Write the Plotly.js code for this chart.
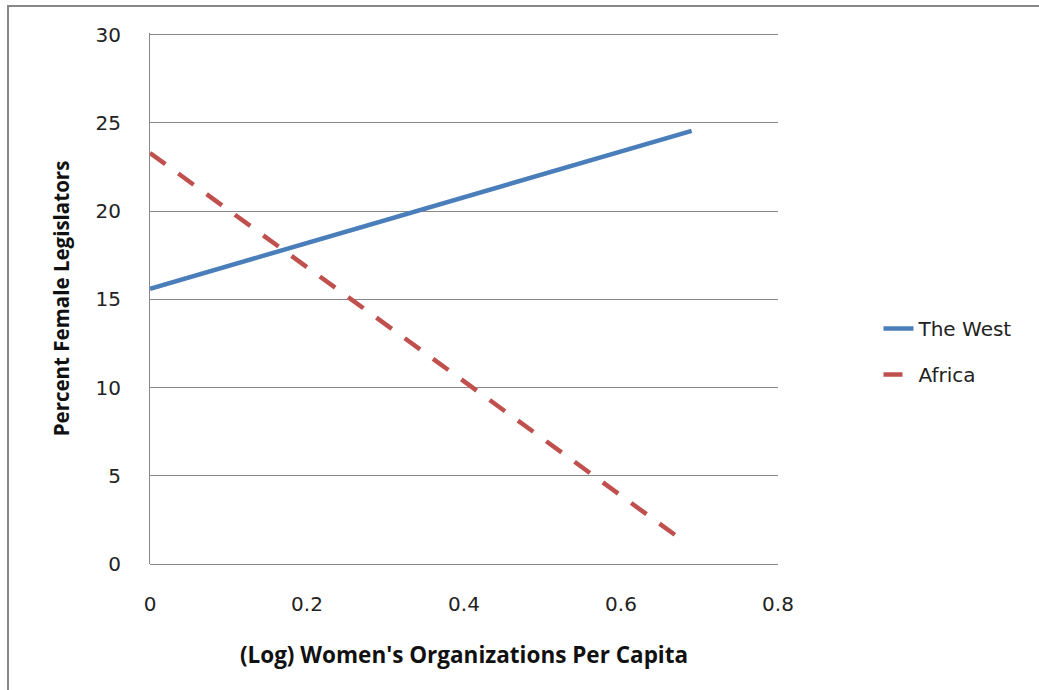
<!DOCTYPE html>
<html><head><meta charset="utf-8">
<script src="https://cdn.plot.ly/plotly-3.0.1.min.js"></script>
<style>
html,body{margin:0;padding:0;background:#fff;}
#frame{position:absolute;left:7px;top:5px;width:1040px;height:700px;border-left:2px solid #888;border-top:2px solid #888;}
#chart{position:absolute;left:0;top:0;width:1039px;height:690px;}
</style></head>
<body>
<div id="frame"></div>
<div id="chart"></div>
<script>
const westX = [0, 0.69];
const westY = [15.6, 24.55];
const africaX = [0, 0.675];
const africaY = [23.3, 1.45];
const seriesNames = ["The West", "Africa"];
const xTicks = [0, 0.2, 0.4, 0.6, 0.8];
const yTicks = [0, 5, 10, 15, 20, 25, 30];

const traces = [
  {x: westX, y: westY, name: seriesNames[0], legendgroup: 'a', mode: 'lines', line: {color: '#4a7ebb', width: 4.5}},
  {x: africaX, y: africaY, name: seriesNames[1], legendgroup: 'b', mode: 'lines', line: {color: '#c0504d', width: 4.5, dash: '19px,16px'}}
];
const layout = {
  width: 1039, height: 690,
  margin: {l: 150, r: 261, t: 33, b: 126},
  paper_bgcolor: 'rgba(0,0,0,0)', plot_bgcolor: 'rgba(0,0,0,0)',
  showlegend: true,
  legend: {x: 1.16, y: 0.40, yanchor: 'middle', xanchor: 'left', traceorder: 'grouped', tracegroupgap: 17,
    font: {family: 'DejaVu Sans', size: 20, color: '#222'}},
  xaxis: {range: [0, 0.8], tickvals: xTicks, ticktext: xTicks.map(String), showgrid: false, zeroline: false, showline: false,
    ticks: '', ticklabelstandoff: 26, tickfont: {family: 'DejaVu Sans', size: 20, color: '#222'},
    title: {text: "(Log) Women's Organizations Per Capita", font: {family: 'Open Sans', size: 22.5, color: '#111', weight: 'bold'}, standoff: 32}},
  yaxis: {range: [0, 30.1], tickvals: yTicks, showgrid: true, gridcolor: '#888', gridwidth: 1, zeroline: true, zerolinecolor: '#888', zerolinewidth: 1,
    showline: true, linecolor: '#888', linewidth: 1, ticks: '', ticklabelstandoff: 24, tickfont: {family: 'DejaVu Sans', size: 20, color: '#222'},
    title: {text: 'Percent Female Legislators', font: {family: 'Open Sans', size: 20.5, color: '#111', weight: 'bold'}, standoff: 20}}
};
Plotly.newPlot('chart', traces, layout, {displayModeBar: false, staticPlot: true});
</script>
</body></html>
